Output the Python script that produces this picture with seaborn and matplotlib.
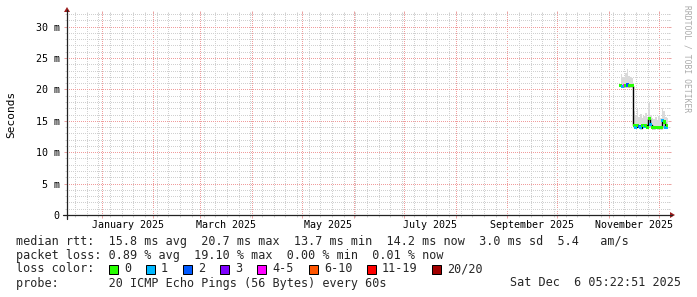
import numpy as np
import pandas as pd
import matplotlib
matplotlib.use('Agg')
import matplotlib.pyplot as plt
import matplotlib.dates as mdates
from matplotlib.ticker import FixedLocator, FixedFormatter
from matplotlib.patches import Polygon, Rectangle
from matplotlib.lines import Line2D
from matplotlib.transforms import blended_transform_factory
import seaborn as sns

# ---------------- data ----------------
window_start = pd.Timestamp('2024-12-11 05:22:51')
window_end = pd.Timestamp('2025-12-06 05:22:51')
first_day = '2025-11-08'

median_ms = [20.6, 20.5, 20.6, 20.6, 20.7, 20.6, 20.6, 20.6,
             14.3, 14.0, 14.2, 14.1, 13.9, 14.2, 14.1, 14.3, 14.0, 15.3,
             14.4, 13.9, 13.9, 14.0, 13.9, 14.0, 13.9, 15.1, 14.8, 14.0, 14.2]
smoke_lo_ms = [20.3, 20.2, 20.3, 20.3, 20.3, 20.2, 20.3, 20.3,
               13.9, 13.7, 13.9, 13.8, 13.7, 13.8, 13.8, 13.9, 13.7, 14.2,
               13.9, 13.6, 13.7, 13.7, 13.7, 13.8, 13.7, 14.0, 13.9, 13.7, 13.8]
smoke_hi_ms = [22.4, 22.0, 21.9, 22.6, 23.3, 22.1, 22.0, 21.8,
               16.6, 15.8, 16.9, 15.6, 16.1, 15.4, 15.7, 16.2, 15.6, 17.8,
               16.0, 15.5, 15.3, 15.6, 15.2, 15.8, 15.4, 17.0, 16.5, 15.6, 15.4]
loss_bucket = ['0', '1', '4-5', '0', '2', '0', '0', '0',
               '0', '1', '0', '2', '1', '0', '1', '0', '0', '0',
               '1', '0', '0', '0', '0', '0', '0', '1', '0', '1', '0']

loss_labels = ['0', '1', '2', '3', '4-5', '6-10', '11-19', '20/20']
loss_colors = ['#26ff00', '#00b8ff', '#0059ff', '#7e00ff', '#ff00ff',
               '#ff5500', '#ff0000', '#a10000']

y_ticks = [0, 0.005, 0.010, 0.015, 0.020, 0.025, 0.030]
y_tick_labels = ['0', '5 m', '10 m', '15 m', '20 m', '25 m', '30 m']
y_minor_ms = [1, 2, 3, 4, 6, 7, 8, 9, 11, 12, 13, 14, 16, 17, 18, 19,
              21, 22, 23, 24, 26, 27, 28, 29, 31, 32]
x_label_months = ['2025-01', '2025-03', '2025-05', '2025-07', '2025-09', '2025-11']

legend_line1 = "median rtt:  15.8 ms avg  20.7 ms max  13.7 ms min  14.2 ms now  3.0 ms sd  5.4   am/s"
legend_line2 = "packet loss: 0.89 % avg  19.10 % max  0.00 % min  0.01 % now"
legend_probe = "probe:       20 ICMP Echo Pings (56 Bytes) every 60s"
legend_stamp = "Sat Dec  6 05:22:51 2025"

df = pd.DataFrame({
    'date': pd.date_range(first_day, periods=len(median_ms), freq='D'),
    'median': np.array(median_ms) / 1000.0,
    'lo': np.array(smoke_lo_ms) / 1000.0,
    'hi': np.array(smoke_hi_ms) / 1000.0,
    'loss': loss_bucket,
})

# ---------------- figure ----------------
W, H = 697, 297
sns.set_theme(style='white')
plt.rcParams['font.family'] = ['DejaVu Sans Mono', 'DejaVu Sans']

fig = plt.figure(figsize=(W / 100, H / 100), dpi=100, facecolor='white')

X0, X1 = 67, 668      # plot area in pixels
Y0, Y1 = 215, 14


def fx(x):
    return x / W


def fy(y):
    return 1 - y / H


ax = fig.add_axes([fx(X0), fy(Y0), (X1 - X0) / W, (Y0 - Y1) / H])
ax.set_facecolor('white')
ax.set_xlim(window_start, window_end)
ax.set_ylim(0, 0.032)
for s in ax.spines.values():
    s.set_visible(False)

grid_col = '#d0d0d0'
mgrid_col = '#f09c9c'

ax.xaxis.set_major_locator(mdates.MonthLocator())
ax.xaxis.set_minor_locator(mdates.WeekdayLocator(byweekday=mdates.MO))
ax.yaxis.set_major_locator(FixedLocator(y_ticks))
ax.yaxis.set_major_formatter(FixedFormatter(y_tick_labels))
ax.yaxis.set_minor_locator(FixedLocator([v / 1000.0 for v in y_minor_ms]))
ax.grid(which='minor', color=grid_col, lw=0.72, linestyle=(0, (0.6, 1.4)),
        antialiased=False, zorder=0)
ax.grid(which='major', color=mgrid_col, lw=0.72, linestyle=(0, (0.6, 1.4)),
        antialiased=False, zorder=1)
ax.set_axisbelow(True)

ax.tick_params(which='major', direction='out', length=2.2, width=0.72,
               color='#eba3a3', top=True, right=True, bottom=True, left=True,
               labelsize=7.2, labelcolor='black', pad=3.0)
ax.tick_params(which='minor', direction='out', length=1.5, width=0.72,
               color=grid_col, top=True, right=True, bottom=True, left=True)
ax.tick_params(axis='x', which='both', labelbottom=False)

# smoke
ax.fill_between(df['date'], df['lo'], df['hi'], step='mid',
                color='#dadada', lw=0, zorder=2)
# median line
sns.lineplot(data=df, x='date', y='median', color='black', lw=1.0,
             drawstyle='steps-mid', estimator=None, ax=ax, zorder=3)
sns.scatterplot(data=df, x='date', y='median', hue='loss',
                palette=dict(zip(loss_labels, loss_colors)), marker='s',
                s=5, linewidth=0, legend=False, ax=ax, zorder=4)
ax.set_xlabel('')
ax.set_ylabel('')

# x labels centered in month
trans = blended_transform_factory(ax.transData, fig.transFigure)
for m in x_label_months:
    start = pd.Timestamp(m + '-01')
    nxt = start + pd.offsets.MonthBegin(1)
    mid = start + (nxt - start) / 2
    ax.text(mid, fy(225), start.strftime('%B %Y'), transform=trans,
            ha='center', va='center', fontsize=7.2, color='black', clip_on=False)

# axes lines and arrows
axis_col = '#222222'
arrow_col = '#9b1c1c'
fig.add_artist(Line2D([fx(X0 - 4), fx(X1 + 4)], [fy(Y0), fy(Y0)],
                      transform=fig.transFigure, color=axis_col, lw=0.9))
fig.add_artist(Line2D([fx(X0), fx(X0)], [fy(Y0 + 4), fy(Y1 - 4)],
                      transform=fig.transFigure, color=axis_col, lw=0.9))
fig.add_artist(Polygon([[fx(X1 + 2), fy(Y0 + 3)], [fx(X1 + 2), fy(Y0 - 3)],
                        [fx(X1 + 7), fy(Y0)]], closed=True,
                       transform=fig.transFigure, color=arrow_col, lw=0))
fig.add_artist(Polygon([[fx(X0 - 3), fy(Y1 - 2)], [fx(X0 + 3), fy(Y1 - 2)],
                        [fx(X0), fy(Y1 - 7)]], closed=True,
                       transform=fig.transFigure, color=arrow_col, lw=0))

# y axis title
fig.text(fx(11), fy(114), 'Seconds', rotation=90, ha='center', va='center',
         fontsize=8, color='black')

# watermark
fig.text(fx(687), fy(5), 'RRDTOOL / TOBI OETIKER', rotation=270,
         ha='center', va='top', fontsize=5.8, color='#aaaaaa')

# legend
lfs = 8.5
fig.text(fx(16), fy(241), legend_line1, ha='left', va='center', fontsize=lfs)
fig.text(fx(16), fy(255), legend_line2, ha='left', va='center', fontsize=lfs)
fig.text(fx(16), fy(269), 'loss color:', ha='left', va='center', fontsize=lfs)
fig.text(fx(16), fy(283), legend_probe, ha='left', va='center', fontsize=lfs)
fig.text(fx(681), fy(283), legend_stamp, ha='right', va='center', fontsize=lfs)

swatch_x = [109, 146, 183, 220, 257, 309, 367, 432]
for sx, lab, col in zip(swatch_x, loss_labels, loss_colors):
    fig.add_artist(Rectangle((fx(sx), fy(274)), 9 / W, 9 / H,
                             transform=fig.transFigure, facecolor=col,
                             edgecolor='black', lw=0.72))
    fig.text(fx(sx + 15), fy(269), lab, ha='left', va='center', fontsize=lfs)

fig.savefig('out.png', dpi=100, facecolor='white')
